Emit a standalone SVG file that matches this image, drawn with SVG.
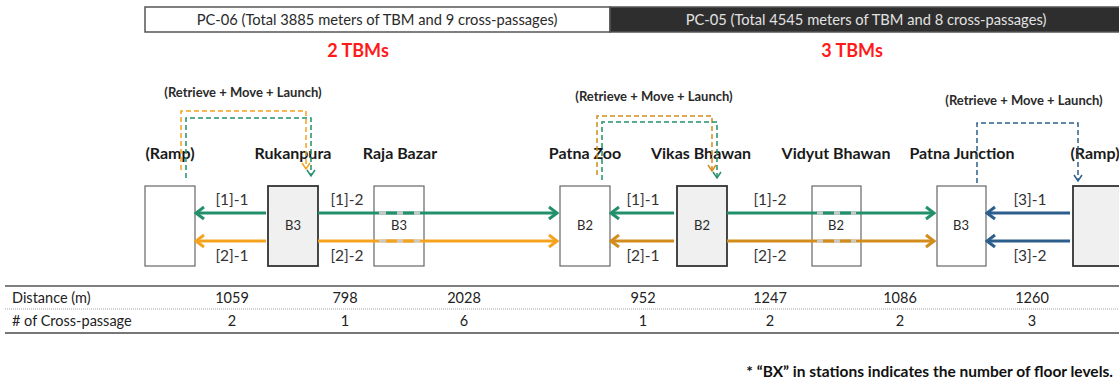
<svg xmlns="http://www.w3.org/2000/svg" width="1119" height="385" viewBox="0 0 1119 385">
<style>
text{font-family:Lato,"Liberation Sans",sans-serif;fill:#2a2a2a}
.hdr{font-size:14.7px;text-anchor:middle}
.tbm{font-size:18px;font-weight:bold;fill:#ff1a1a;text-anchor:middle}
.rml{font-size:13px;font-weight:bold;text-anchor:middle}
.stn{font-size:16px;font-weight:bold;text-anchor:middle;fill:#1a1a1a}
.bx{font-size:13px;text-anchor:middle}
.lbl{font-size:15.5px;text-anchor:middle;fill:#333}
.tbl{font-size:14.5px;fill:#222}
.num{font-size:14.5px;text-anchor:middle;fill:#222}
.box{fill:#fff;stroke:#666;stroke-width:1.2}
.boxd{fill:#f0f0f0;stroke:#333;stroke-width:1.8}
.arr{fill:none;stroke-width:3}
.dsh{fill:none;stroke-width:1.5;stroke-dasharray:5 3}
.g{stroke:#23906c}
.o{stroke:#f5a31f}
.od{stroke:#d38d1d}
.b{stroke:#2d5f8c}
.gap{stroke:#c9c9c9;stroke-width:3}
</style>
<defs>
<marker id="mg" markerUnits="userSpaceOnUse" markerWidth="14" markerHeight="16" viewBox="-12 -8 14 16" refX="0" refY="0" orient="auto"><path d="M-8,-6 L0,0 L-8,6" fill="none" stroke="#23906c" stroke-width="3"/></marker>
<marker id="mo" markerUnits="userSpaceOnUse" markerWidth="14" markerHeight="16" viewBox="-12 -8 14 16" refX="0" refY="0" orient="auto"><path d="M-8,-6 L0,0 L-8,6" fill="none" stroke="#f5a31f" stroke-width="3"/></marker>
<marker id="mod" markerUnits="userSpaceOnUse" markerWidth="14" markerHeight="16" viewBox="-12 -8 14 16" refX="0" refY="0" orient="auto"><path d="M-8,-6 L0,0 L-8,6" fill="none" stroke="#d38d1d" stroke-width="3"/></marker>
<marker id="mb" markerUnits="userSpaceOnUse" markerWidth="14" markerHeight="16" viewBox="-12 -8 14 16" refX="0" refY="0" orient="auto"><path d="M-8,-6 L0,0 L-8,6" fill="none" stroke="#2d5f8c" stroke-width="3"/></marker>
<marker id="dg" markerUnits="userSpaceOnUse" markerWidth="10" markerHeight="12" viewBox="-8 -6 10 12" refX="0" refY="0" orient="auto"><path d="M-6,-4 L0,0 L-6,4" fill="none" stroke="#23906c" stroke-width="1.5"/></marker>
<marker id="do" markerUnits="userSpaceOnUse" markerWidth="10" markerHeight="12" viewBox="-8 -6 10 12" refX="0" refY="0" orient="auto"><path d="M-6,-4 L0,0 L-6,4" fill="none" stroke="#f5a31f" stroke-width="1.5"/></marker>
<marker id="dod" markerUnits="userSpaceOnUse" markerWidth="10" markerHeight="12" viewBox="-8 -6 10 12" refX="0" refY="0" orient="auto"><path d="M-6,-4 L0,0 L-6,4" fill="none" stroke="#d38d1d" stroke-width="1.5"/></marker>
<marker id="db" markerUnits="userSpaceOnUse" markerWidth="10" markerHeight="12" viewBox="-8 -6 10 12" refX="0" refY="0" orient="auto"><path d="M-6,-4 L0,0 L-6,4" fill="none" stroke="#2d5f8c" stroke-width="1.5"/></marker>
</defs>
<rect width="1119" height="385" fill="#fff"/>

<g id="header">
<rect x="145" y="7" width="465" height="25" fill="#fff" stroke="#555" stroke-width="1.5"/>
<rect x="610" y="7" width="512" height="25" fill="#2e2e2e" stroke="#555" stroke-width="1.5"/>
<text class="hdr" x="377" y="25">PC-06 (Total 3885 meters of TBM and 9 cross-passages)</text>
<text class="hdr" x="866" y="25" style="fill:#e2e2e2">PC-05 (Total 4545 meters of TBM and 8 cross-passages)</text>
<text class="tbm" x="358" y="57">2 TBMs</text>
<text class="tbm" x="852" y="57">3 TBMs</text>
<text class="rml" x="243" y="97">(Retrieve + Move + Launch)</text>
<text class="rml" x="654" y="101">(Retrieve + Move + Launch)</text>
<text class="rml" x="1024" y="105">(Retrieve + Move + Launch)</text>
</g>

<g id="ramp-left"><rect class="box" x="145" y="186" width="50" height="80"/><text class="stn" x="170" y="159">(Ramp)</text></g>
<g id="rukanpura"><rect class="boxd" x="268" y="186" width="50" height="80"/><text class="stn" x="293" y="159">Rukanpura</text><text class="bx" x="293" y="230">B3</text></g>
<g id="raja-bazar"><rect class="box" x="374" y="186" width="50" height="80"/><text class="stn" x="400" y="159">Raja Bazar</text><text class="bx" x="399" y="230">B3</text></g>
<g id="patna-zoo"><rect class="box" x="560" y="186" width="50" height="80"/><text class="stn" x="585" y="159">Patna Zoo</text><text class="bx" x="585" y="230">B2</text></g>
<g id="vikas-bhawan"><rect class="boxd" x="677" y="186" width="50" height="80"/><text class="stn" x="701" y="159">Vikas Bhawan</text><text class="bx" x="702" y="230">B2</text></g>
<g id="vidyut-bhawan"><rect class="box" x="812" y="186" width="49" height="80"/><text class="stn" x="836" y="159">Vidyut Bhawan</text><text class="bx" x="836" y="230">B2</text></g>
<g id="patna-junction"><rect class="box" x="937" y="186" width="49" height="80"/><text class="stn" x="962" y="159">Patna Junction</text><text class="bx" x="961" y="230">B3</text></g>
<g id="ramp-right"><rect class="boxd" x="1073" y="186" width="50" height="80"/><text class="stn" x="1095" y="159">(Ramp)</text></g>

<g id="connectors">
<path class="arr g" d="M266,213 H196" marker-end="url(#mg)"/>
<path class="arr o" d="M266,241 H196" marker-end="url(#mo)"/>
<path class="arr g" d="M318,213 H557" marker-end="url(#mg)"/>
<path class="arr o" d="M318,241 H557" marker-end="url(#mo)"/>
<line class="gap" x1="379" y1="213" x2="420" y2="213"/>
<line class="arr g" x1="386" y1="213" x2="414" y2="213" stroke-dasharray="11 6"/>
<line class="gap" x1="379" y1="241" x2="420" y2="241"/>
<line class="arr o" x1="386" y1="241" x2="414" y2="241" stroke-dasharray="11 6"/>

<path class="arr g" d="M674,213 H611" marker-end="url(#mg)"/>
<path class="arr od" d="M674,241 H611" marker-end="url(#mod)"/>
<path class="arr g" d="M727,213 H934" marker-end="url(#mg)"/>
<path class="arr od" d="M727,241 H934" marker-end="url(#mod)"/>
<line class="gap" x1="817" y1="213" x2="856" y2="213"/>
<line class="arr g" x1="823" y1="213" x2="851" y2="213" stroke-dasharray="11 6"/>
<line class="gap" x1="817" y1="241" x2="856" y2="241"/>
<line class="arr od" x1="823" y1="241" x2="851" y2="241" stroke-dasharray="11 6"/>

<path class="arr b" d="M1070,213 H987" marker-end="url(#mb)"/>
<path class="arr b" d="M1070,241 H987" marker-end="url(#mb)"/>

<path class="dsh o" d="M181,170 V111 H306 V169" marker-end="url(#do)"/>
<path class="dsh g" d="M186,178 V118 H311 V176" marker-end="url(#dg)"/>
<path class="dsh od" d="M597,175 V116 H712 V171" marker-end="url(#dod)"/>
<path class="dsh g" d="M602,180 V122 H717 V178" marker-end="url(#dg)"/>
<path class="dsh b" d="M977,183 V123 H1078 V181" marker-end="url(#db)"/>

<text class="lbl" x="232" y="205">[1]-1</text>
<text class="lbl" x="232" y="261">[2]-1</text>
<text class="lbl" x="347" y="205">[1]-2</text>
<text class="lbl" x="347" y="261">[2]-2</text>
<text class="lbl" x="643" y="205">[1]-1</text>
<text class="lbl" x="643" y="261">[2]-1</text>
<text class="lbl" x="770" y="205">[1]-2</text>
<text class="lbl" x="770" y="261">[2]-2</text>
<text class="lbl" x="1030" y="205">[3]-1</text>
<text class="lbl" x="1030" y="261">[3]-2</text>
</g>

<g id="table">
<line x1="5" y1="286" x2="1119" y2="286" stroke="#555" stroke-width="1.5"/>
<line x1="5" y1="309" x2="1119" y2="309" stroke="#aaa" stroke-width="1" stroke-dasharray="1 1"/>
<line x1="5" y1="333" x2="1119" y2="333" stroke="#777" stroke-width="2"/>
<text class="tbl" x="12" y="303">Distance (m)</text>
<text class="tbl" x="12" y="326"># of Cross-passage</text>
<text class="num" x="232" y="303">1059</text>
<text class="num" x="345" y="303">798</text>
<text class="num" x="464" y="303">2028</text>
<text class="num" x="643" y="303">952</text>
<text class="num" x="770" y="303">1247</text>
<text class="num" x="900" y="303">1086</text>
<text class="num" x="1032" y="303">1260</text>
<text class="num" x="232" y="326">2</text>
<text class="num" x="345" y="326">1</text>
<text class="num" x="464" y="326">6</text>
<text class="num" x="643" y="326">1</text>
<text class="num" x="770" y="326">2</text>
<text class="num" x="900" y="326">2</text>
<text class="num" x="1032" y="326">3</text>
</g>

<text x="1113" y="377" style="font-size:15.5px;font-weight:bold;text-anchor:end;fill:#111">* “BX” in stations indicates the number of floor levels.</text>
</svg>
